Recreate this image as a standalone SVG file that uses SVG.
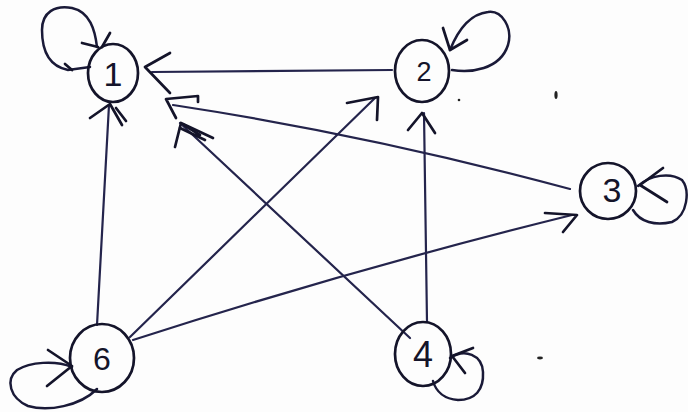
<svg xmlns="http://www.w3.org/2000/svg" width="688" height="412" viewBox="0 0 688 412">
<style>
.node{fill:none;stroke:#14142a;stroke-width:2.7}
.lbl{font-family:"Liberation Sans",Arial,sans-serif;fill:#14142a;text-anchor:middle}
.edge{fill:none;stroke:#24244c;stroke-width:2.2;stroke-linecap:round}
.head{fill:none;stroke:#14142a;stroke-width:2.7;stroke-linecap:round;stroke-linejoin:round}
.loop{fill:none;stroke:#1a1a38;stroke-width:2.5;stroke-linecap:round}
.mark{fill:#222}
</style>
<rect width="688" height="412" fill="#fdfdfd"/>
<g id="marks">
<ellipse class="mark" cx="556" cy="95" rx="1.6" ry="4"/>
<ellipse class="mark" cx="540" cy="358" rx="3" ry="1.4"/>
<circle class="mark" cx="459" cy="100" r="1.3"/>
</g>
<g id="connectors">
<!-- 2 -> 1 -->
<path class="edge" d="M152,72 L392,70"/>
<polyline class="head" points="170,53 145,67 170,93"/>
<!-- 3 -> 1 -->
<path class="edge" d="M173,105 Q370,135 570,189"/>
<polyline class="head" points="198,102 198,96 166,99 176,118"/>
<!-- 4 -> 1 -->
<path class="edge" d="M180,123 L410,338"/>
<polyline class="head" points="175,147 181,123 213,138"/>
<path class="head" d="M180,128 L205,140 M184,125 L200,135"/>
<!-- 6 -> 1 -->
<path class="edge" d="M109,105 L97,325"/>
<polyline class="head" points="90,118 110,104 122,125"/>
<path class="head" d="M116,108 L126,121"/>
<!-- 6 -> 2 -->
<path class="edge" d="M375,98 L130,337"/>
<polyline class="head" points="347,103 378,97 377,120"/>
<!-- 4 -> 2 -->
<path class="edge" d="M424,113 L427,322"/>
<polyline class="head" points="408,130 422,113 435,133"/>
<!-- 6 -> 3 -->
<path class="edge" d="M133,340 Q350,270 572,215"/>
<polyline class="head" points="545,213 577,215 563,232"/>
<!-- self loop 1 -->
<path class="loop" d="M97,47 C95,30 90,12 72,8 C55,5 42,12 42,30 C42,50 48,66 68,70 L90,67"/>
<path class="head" d="M82,43 L98,47 M110,33 L102,47 M65,64 L72,70"/>
<!-- self loop 2 -->
<path class="loop" d="M452,70 C470,73 500,70 508,45 C513,28 502,10 488,12 C470,14 458,30 450,50"/>
<polyline class="head" points="443,28 450,50 467,40"/>
<!-- self loop 3 -->
<path class="loop" d="M638,186 C650,175 670,172 682,180 C690,190 688,215 672,222 C655,226 640,222 633,210"/>
<polyline class="head" points="663,168 640,185 667,202"/>
<!-- self loop 6 -->
<path class="loop" d="M72,367 C55,360 30,362 17,370 C5,380 10,398 28,406 C48,412 80,406 97,389"/>
<polyline class="head" points="48,350 72,366 47,386"/>
<!-- self loop 4 -->
<path class="loop" d="M450,358 C465,348 482,355 483,372 C484,390 475,400 458,400 C445,399 436,392 433,381"/>
<polyline class="head" points="473,348 452,356 465,373"/>
</g>
<g id="node1"><ellipse class="node" cx="113" cy="73" rx="25" ry="29"/><text class="lbl" x="113" y="86" font-size="34">1</text></g>
<g id="node2"><ellipse class="node" cx="422" cy="71" rx="27" ry="31"/><text class="lbl" x="424" y="81" font-size="27">2</text></g>
<g id="node3"><ellipse class="node" cx="608" cy="191" rx="28" ry="28"/><text class="lbl" x="612" y="202" font-size="34">3</text></g>
<g id="node4"><ellipse class="node" cx="423" cy="354" rx="28" ry="32"/><text class="lbl" x="423" y="367" font-size="36">4</text></g>
<g id="node6"><ellipse class="node" cx="102" cy="358" rx="32" ry="34"/><text class="lbl" x="102" y="370" font-size="32">6</text></g>
</svg>
